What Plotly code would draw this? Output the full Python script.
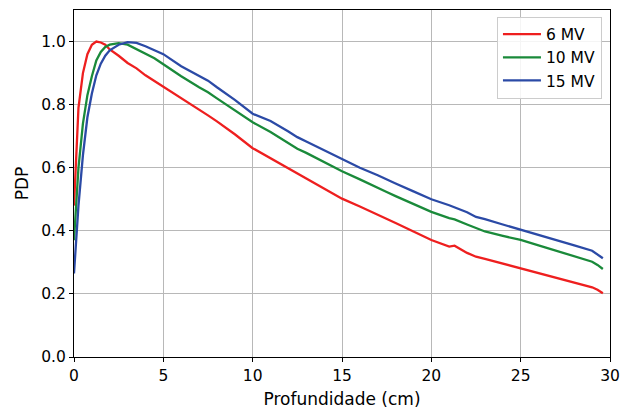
import plotly.graph_objects as go

depth = [0, 0.25, 0.5, 0.75, 1.0, 1.25, 1.5, 1.75, 2.0, 2.5, 3.0, 3.5, 4.0, 4.5, 5,
         6, 7, 7.5, 8, 9, 10, 11, 12, 12.5, 13, 14, 15, 16, 17, 17.5, 18, 19, 20,
         21, 21.3, 22, 22.5, 23, 24, 25, 26, 27, 28, 29, 29.3, 29.6]

pdp_6mv = [0.48, 0.79, 0.90, 0.96, 0.99, 1.0, 0.997, 0.99, 0.975, 0.955, 0.932, 0.915,
           0.893, 0.875, 0.857, 0.822, 0.785, 0.766, 0.747, 0.706, 0.662, 0.630, 0.597,
           0.581, 0.565, 0.533, 0.502, 0.477, 0.452, 0.439, 0.425, 0.398, 0.371, 0.350,
           0.353, 0.330, 0.318, 0.311, 0.296, 0.281, 0.266, 0.251, 0.237, 0.221, 0.213, 0.202]

pdp_10mv = [0.37, 0.60, 0.74, 0.83, 0.89, 0.94, 0.967, 0.983, 0.99, 0.995, 0.99, 0.976,
            0.962, 0.947, 0.928, 0.89, 0.855, 0.839, 0.82, 0.783, 0.744, 0.713, 0.678,
            0.66, 0.647, 0.617, 0.589, 0.563, 0.538, 0.523, 0.51, 0.485, 0.46, 0.44,
            0.436, 0.42, 0.408, 0.398, 0.384, 0.371, 0.354, 0.337, 0.321, 0.302, 0.292, 0.279]

pdp_15mv = [0.265, 0.48, 0.64, 0.76, 0.835, 0.893, 0.93, 0.955, 0.972, 0.99, 0.998, 0.996,
            0.985, 0.972, 0.96, 0.922, 0.89, 0.876, 0.855, 0.815, 0.771, 0.748, 0.715,
            0.697, 0.683, 0.655, 0.626, 0.60, 0.576, 0.562, 0.55, 0.525, 0.50, 0.481,
            0.475, 0.459, 0.444, 0.437, 0.42, 0.404, 0.387, 0.370, 0.354, 0.337, 0.326, 0.313]

series = [("6 MV", pdp_6mv, "#ee1f1f"),
          ("10 MV", pdp_10mv, "#1a8a3a"),
          ("15 MV", pdp_15mv, "#2b4aa6")]

x_ticks = [0, 5, 10, 15, 20, 25, 30]
y_ticks = [0.0, 0.2, 0.4, 0.6, 0.8, 1.0]

FONT = "DejaVu Sans"

fig = go.Figure()
for name, vals, color in series:
    fig.add_trace(go.Scatter(x=depth, y=vals, mode="lines", name=name,
                             line=dict(color=color, width=2.3)))

axis_common = dict(showgrid=True, gridcolor="#b8b8b8", gridwidth=1.3,
                   showline=True, linecolor="black", linewidth=1.2, mirror=True,
                   ticks="outside", ticklen=4, tickcolor="black", tickwidth=1.1,
                   zeroline=False, automargin=False,
                   tickfont=dict(family=FONT, size=15.5, color="black"))

fig.update_xaxes(range=[0, 30], tickvals=x_ticks, ticktext=[str(v) for v in x_ticks],
                 title=dict(text="Profundidade (cm)", font=dict(family=FONT, size=17, color="black"),
                            standoff=9),
                 **axis_common)
fig.update_yaxes(range=[0, 1.1], tickvals=y_ticks, ticktext=[f"{v:.1f}" for v in y_ticks],
                 title=dict(text="PDP", font=dict(family=FONT, size=17, color="black"),
                            standoff=8),
                 **axis_common)

fig.update_layout(
    width=633, height=410,
    margin=dict(l=74, r=23, t=10, b=53),
    paper_bgcolor="white", plot_bgcolor="white",
    font=dict(family=FONT, color="black"),
    legend=dict(x=0.985, y=0.981, xanchor="right", yanchor="top",
                bgcolor="rgba(255,255,255,0.85)", bordercolor="#cccccc", borderwidth=1,
                font=dict(family=FONT, size=15.5, color="black"),
                itemwidth=38),
    showlegend=True,
)

fig.write_html("out.html")
